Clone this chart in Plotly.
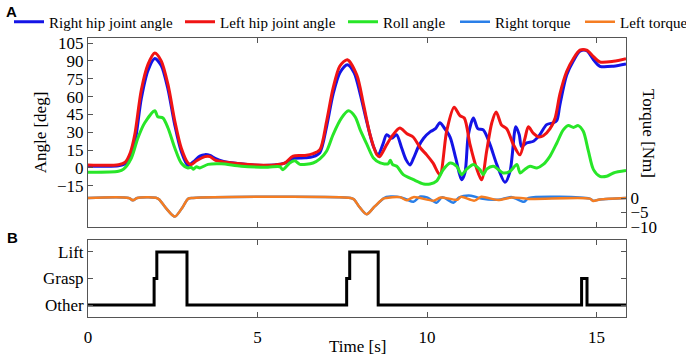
import plotly.graph_objects as go

# ---------------- data ----------------
rh_t = [0, 0.9, 1.1, 1.25, 1.4, 1.57, 1.77, 1.97, 2.16, 2.36, 2.56, 2.75, 2.95, 3.1, 3.3, 3.45, 3.6, 3.75,
        4.0, 4.5, 5.0, 5.5, 5.8, 6.05, 6.4, 6.64, 6.84, 7.04, 7.23, 7.43, 7.65, 7.85, 8.03, 8.23, 8.42,
        8.56, 8.7, 8.81, 8.96, 9.1, 9.25, 9.38, 9.5, 9.6, 9.75, 9.9, 10.1, 10.25, 10.38, 10.5, 10.68,
        10.85, 11.02, 11.12, 11.22, 11.37, 11.5, 11.66, 11.86, 12.06, 12.3, 12.45, 12.62, 12.72, 12.79,
        12.94, 13.14, 13.33, 13.53, 13.73, 13.83, 13.92, 14.12, 14.32, 14.51, 14.71, 14.91, 15.1, 15.5, 15.87]
rh_v = [1.7, 1.8, 3.5, 9, 24, 58, 82, 92, 86, 66, 36, 14, 2, 5, 10, 11.2, 10.5, 8,
        5.5, 3.5, 2.2, 2.5, 4, 8, 8.5, 9.5, 13, 35, 62, 80, 86.8, 80, 62, 38, 18,
        11, 20, 28, 25, 28, 17, 7, 2.5, 8, 18, 25, 30.5, 33, 38, 34, 26,
        8, -10, -4, 28, 42, 33, 32, 19.6, 2.8, -12, -2.8, 34.7, 28, 18,
        21, 22.4, 28, 36.4, 38, 40, 53, 78, 90, 98, 98.6, 91, 85.4, 85.5, 87.4]

lh_t = [0, 0.9, 1.1, 1.25, 1.38, 1.57, 1.77, 1.97, 2.16, 2.36, 2.56, 2.75, 2.95, 3.05, 3.2, 3.45, 3.6, 3.75,
        4.0, 4.5, 5.0, 5.5, 5.8, 6.05, 6.4, 6.64, 6.84, 7.04, 7.23, 7.43, 7.65, 7.93, 8.13, 8.32, 8.52,
        8.6, 8.81, 9.0, 9.2, 9.4, 9.59, 9.8, 9.99, 10.18, 10.38, 10.58, 10.8, 10.97, 11.1, 11.27, 11.46,
        11.61, 11.76, 11.91, 12.04, 12.2, 12.35, 12.55, 12.74, 12.89, 12.99, 13.14, 13.3, 13.43, 13.63,
        13.78, 13.92, 14.12, 14.32, 14.51, 14.71, 14.91, 15.1, 15.5, 15.87]
lh_v = [2.5, 2.7, 5, 13, 28, 65, 87, 96.6, 90, 70, 39.5, 16.8, 4.2, 3, 6, 9.5, 9.5, 6.5,
        5, 3.5, 2.5, 2.5, 4, 10, 10.5, 12, 15.4, 39.5, 67, 85.7, 91, 78, 53, 28, 11.2,
        9.5, 19.6, 28, 33.6, 29, 26, 17, 11, 4, -5.8, 31, 51, 44, 42, 19.6, 0,
        -10, 14.3, 37.8, 47, 36, 33, 19.6, 11, 25, 34.7, 29, 26, 27, 33,
        42, 62, 81, 92, 99, 99, 93.5, 89, 89.6, 91.8]

roll_t = [0, 0.9, 1.05, 1.28, 1.47, 1.67, 1.97, 2.06, 2.21, 2.36, 2.56, 2.75, 2.95, 3.05, 3.1, 3.2, 3.3,
          3.54, 3.93, 4.52, 5.31, 5.66, 5.75, 5.95, 6.1, 6.25, 6.64, 6.84, 7.04, 7.23, 7.48, 7.68, 7.88,
          8.03, 8.23, 8.42, 8.62, 8.85, 8.92, 8.98, 9.11, 9.3, 9.6, 9.9, 10.09, 10.28, 10.48, 10.68,
          10.88, 11.02, 11.17, 11.37, 11.56, 11.66, 11.76, 11.96, 12.25, 12.45, 12.65, 12.75, 12.89,
          13.04, 13.24, 13.43, 13.63, 13.83, 14.02, 14.17, 14.32, 14.46, 14.61, 14.76, 14.91, 15.1,
          15.3, 15.5, 15.87]
roll_v = [-3.6, -2.8, -1, 8.4, 25, 37.8, 48, 43, 42, 33.6, 16.8, 4.2, 0, 0.5, -1, 1, 0,
          3, 3.5, 1.4, 0.7, 1, -1.4, 4.2, 6, 3, 4.2, 7.6, 14.3, 28, 42, 48, 43,
          32, 19.6, 8.4, 4.2, 3.5, 6.5, 3, 1.4, -5.6, -9.8, -13.4, -13.4, -11, -1.4, 4.2,
          1.4, -5.6, -1, 3, -1.4, -5.6, -1, 1.4, -4.2, -2.8, 3, -4.2, -1,
          1.4, 0, 3, 10, 21, 32, 35.6, 34, 35.6, 30.8, 14.3, -1.4, -7,
          -7, -4.2, -2.2]

rt_t = [0, 1.2, 1.33, 1.45, 2.0, 2.1, 2.3, 2.56, 2.8, 2.95, 3.1, 7.75, 7.85, 8.0, 8.22, 8.45, 8.7, 8.8,
        9.2, 9.4, 9.6, 9.8, 10.0, 10.28, 10.45, 10.78, 10.95, 11.3, 11.6, 12.1, 12.5, 12.86, 13.0,
        14.8, 14.9, 15.1, 15.87]
rt_v = [0, 0, -0.8, 0, 0.1, -0.5, -3.5, -6.4, -3, -0.3, 0, 0, -0.5, -3, -5.6, -3, -0.3, 0.4,
        0.3, -0.5, -1.3, 0.5, 0.2, -1.6, 0.3, -1.6, 0.2, 0.8, -0.2, -0.6, 0.3, -1.3, 0,
        -0.2, -0.9, -0.5, 0]

lt_t = [0, 1.2, 1.33, 1.45, 2.0, 2.1, 2.3, 2.56, 2.8, 2.95, 3.1, 7.75, 7.85, 8.0, 8.22, 8.45, 8.7, 8.8,
        9.2, 9.4, 9.6, 10.2, 10.4, 10.9, 11.0, 11.4, 11.6, 12.1, 12.5, 13.0, 14.8, 14.9, 15.1, 15.87]
lt_v = [0, 0, -0.8, 0, 0.1, -0.5, -3.5, -6.4, -3, -0.3, 0, 0, -0.5, -3, -5.6, -3, -0.3, 0,
        0.3, -0.8, 0.3, -0.9, 0.2, -0.6, 0.4, -0.9, 0.4, -0.7, 0.2, -0.3, -0.2, -1.0, -0.5, 0]

state_t = [0, 1.95, 2.03, 2.92, 7.63, 7.72, 8.56, 14.56, 14.72, 15.87]
state_v = [0, 1, 2, 0, 1, 2, 0, 1, 0, 0]

angle_ticks = [-15, 0, 15, 30, 45, 60, 75, 90, 105]
torque_ticks = [0, -5, -10]
time_ticks = [0, 5, 10, 15]
state_vals = [0, 1, 2]
state_labels = ["Other", "Grasp", "Lift"]

# ---------------- figure ----------------
SERIF = "Liberation Serif"
SANS = "Liberation Sans"
AX = "#555555"
W, H = 686, 357

fig = go.Figure()
fig.add_trace(go.Scatter(x=rh_t, y=rh_v, name="Right hip joint angle", mode="lines", legend="legend",
                         line=dict(color="#1414e6", width=3, shape="spline", smoothing=0.8),
                         xaxis="x", yaxis="y"))
fig.add_trace(go.Scatter(x=lh_t, y=lh_v, name="Left hip joint angle", mode="lines", legend="legend2",
                         line=dict(color="#f01414", width=3, shape="spline", smoothing=0.8),
                         xaxis="x", yaxis="y"))
fig.add_trace(go.Scatter(x=roll_t, y=roll_v, name="Roll angle", mode="lines", legend="legend3",
                         line=dict(color="#28e628", width=3, shape="spline", smoothing=0.8),
                         xaxis="x", yaxis="y"))
fig.add_trace(go.Scatter(x=rt_t, y=rt_v, name="Right torque", mode="lines", legend="legend4",
                         line=dict(color="#2a7fe8", width=2.5, shape="spline", smoothing=0.8),
                         xaxis="x", yaxis="y2"))
fig.add_trace(go.Scatter(x=lt_t, y=lt_v, name="Left torque", mode="lines", legend="legend5",
                         line=dict(color="#f57d22", width=2.5, shape="spline", smoothing=0.8),
                         xaxis="x", yaxis="y2"))
fig.add_trace(go.Scatter(x=state_t, y=state_v, mode="lines", showlegend=False,
                         line=dict(color="black", width=3, shape="hv"),
                         xaxis="x2", yaxis="y3"))

axis_common = dict(showline=True, linecolor=AX, linewidth=1, ticks="inside", ticklen=5,
                   tickcolor=AX, showgrid=False, zeroline=False, automargin=False,
                   tickfont=dict(family=SERIF, size=17, color="black"))


def legend_at(text_left_px):
    return dict(orientation="h", xref="container", yref="container",
                x=(text_left_px - 40) / W, xanchor="left",
                y=1 - 22 / H, yanchor="middle",
                font=dict(family=SERIF, size=15, color="black"),
                bgcolor="rgba(0,0,0,0)", borderwidth=0, itemwidth=30)


fig.update_layout(
    width=W, height=H,
    margin=dict(l=88, r=60, t=38, b=40, autoexpand=False),
    paper_bgcolor="white", plot_bgcolor="white",
    font=dict(family=SERIF, size=17, color="black"),
    showlegend=True,
    legend=legend_at(49),
    legend2=legend_at(220),
    legend3=legend_at(383),
    legend4=legend_at(495),
    legend5=legend_at(620),
    xaxis=dict(domain=[0, 1], anchor="y", range=[0, 15.87], tickvals=time_ticks,
               showticklabels=False, mirror="ticks", **axis_common),
    yaxis=dict(domain=[0.3226, 1], anchor="x", range=[-49.6, 109.2], tickvals=angle_ticks,
               title=dict(text="Angle [deg]", font=dict(family=SERIF, size=17), standoff=6),
               **axis_common),
    yaxis2=dict(overlaying="y", side="right", anchor="x", range=[-10, 55.2], tickvals=torque_ticks,
                **axis_common),
    xaxis2=dict(domain=[0, 1], anchor="y3", range=[0, 15.87], tickvals=time_ticks,
                mirror="ticks", ticklabelstandoff=5, **axis_common),
    yaxis3=dict(domain=[0, 0.276], anchor="x2", range=[-0.45, 2.45], tickvals=state_vals,
                ticktext=state_labels, mirror="ticks", **axis_common),
    annotations=[
        dict(text="Torque [Nm]", textangle=90, xref="paper", yref="paper", x=(649 - 88) / 538,
             y=(317 - 133) / 279, showarrow=False, xanchor="center", yanchor="middle",
             font=dict(family=SERIF, size=17)),
        dict(text="Time [s]", xref="paper", yref="paper", x=0.5, y=(317 - 346) / 279,
             showarrow=False, xanchor="center", yanchor="middle", font=dict(family=SERIF, size=17)),
        dict(text="<b>A</b>", xref="paper", yref="paper", x=(11 - 88) / 538, y=(317 - 11) / 279,
             showarrow=False, xanchor="center", yanchor="middle",
             font=dict(family=SANS, size=15)),
        dict(text="<b>B</b>", xref="paper", yref="paper", x=(12.5 - 88) / 538, y=(317 - 237) / 279,
             showarrow=False, xanchor="center", yanchor="middle",
             font=dict(family=SANS, size=15)),
    ],
)

fig.write_html("out.html", config={"displayModeBar": False},
               post_script="document.body.style.margin='0';")
